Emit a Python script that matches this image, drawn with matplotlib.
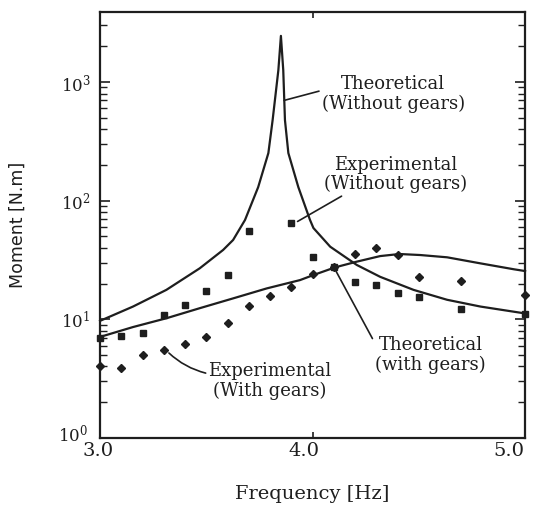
import matplotlib
matplotlib.use('Agg')
import matplotlib.pyplot as plt
import matplotlib.transforms as mtrans
from matplotlib.ticker import LogLocator, LogFormatterMathtext, NullFormatter

plt.rcParams['font.family'] = 'DejaVu Serif'
plt.rcParams['mathtext.fontset'] = 'dejavuserif'

ink = '#1e1e1e'

# theoretical response, no gears (sharp resonance near 3.85 Hz)
f_theo_free = [3.00, 3.155, 3.312, 3.469, 3.579, 3.626, 3.682, 3.744, 3.792, 3.812,
               3.839, 3.851, 3.862, 3.870, 3.886, 3.933, 3.988, 4.004, 4.083, 4.208,
               4.318, 4.475, 4.633, 4.790, 5.00]
m_theo_free = [9.7, 12.8, 17.7, 26.9, 38.4, 46.6, 68.7, 130, 252, 478,
               1260, 2450, 1260, 478, 252, 130, 68.7, 58.8, 40.9, 28.7,
               22.8, 17.7, 14.6, 12.8, 11.2]

# theoretical response, with gears
f_theo_gear = [3.00, 3.155, 3.312, 3.469, 3.626, 3.784, 3.941, 4.004, 4.106, 4.208,
               4.318, 4.409, 4.507, 4.633, 4.790, 4.947, 5.00]
m_theo_gear = [7.1, 8.6, 10.2, 12.4, 15.0, 18.2, 21.4, 23.6, 27.4, 30.6,
               34.1, 35.5, 34.8, 33.3, 29.6, 26.4, 25.5]

# measured, no gears
f_exp_free = [3.0, 3.1, 3.2, 3.3, 3.4, 3.5, 3.6, 3.7, 3.9, 4.0, 4.1, 4.2, 4.3, 4.4, 4.5, 4.7, 5.0]
m_exp_free = [6.9, 7.2, 7.6, 10.9, 13.2, 17.2, 23.5, 55, 65, 33.7, 27.7, 20.7, 19.5, 16.6, 15.3, 12.2, 11.0]

# measured, with gears
f_exp_gear = [3.0, 3.1, 3.2, 3.3, 3.4, 3.5, 3.6, 3.7, 3.8, 3.9, 4.0, 4.1, 4.2, 4.3, 4.4, 4.5, 4.7, 5.0]
m_exp_gear = [4.0, 3.9, 5.0, 5.5, 6.2, 7.1, 9.3, 12.9, 15.8, 18.8, 24, 27.4, 35.5, 39.6, 34.8, 22.6, 21.1, 16.0]

freq_ticks = [3.0, 4.0, 5.0]
freq_labels = ['3.0', '4.0', '5.0']

fig = plt.figure(figsize=(5.38, 5.08), dpi=100)
ax = fig.add_axes([0.186, 0.138, 0.79, 0.838])

ax.plot(f_theo_free, m_theo_free, color=ink, lw=1.6, clip_on=False)
ax.plot(f_theo_gear, m_theo_gear, color=ink, lw=1.6, clip_on=False)
ax.plot(f_exp_free, m_exp_free, ls='none', marker='s', ms=4.5, color=ink, clip_on=False)
ax.plot(f_exp_gear, m_exp_gear, ls='none', marker='D', ms=4.5, color=ink, clip_on=False)

ax.set_yscale('log')
ax.set_xlim(3.0, 5.0)
ax.set_ylim(1, 3880)

ax.set_xticks(freq_ticks)
ax.set_xticklabels(freq_labels)
ax.yaxis.set_major_locator(LogLocator(base=10, numticks=10))
ax.yaxis.set_minor_locator(LogLocator(base=10, subs=range(2, 10), numticks=10))
ax.yaxis.set_major_formatter(LogFormatterMathtext())
ax.yaxis.set_minor_formatter(NullFormatter())

ax.tick_params(axis='both', which='both', direction='in', colors=ink, labelcolor=ink)
ax.tick_params(axis='y', which='major', length=7, width=1.2, right=True, labelsize=12, pad=7)
ax.tick_params(axis='y', which='minor', length=5, width=1.0, right=True)
ax.tick_params(axis='x', which='major', length=4, width=1.2, top=True, labelsize=14, pad=3)

# x labels sit a little left of their ticks
for lbl, dx in zip(ax.get_xticklabels(), [-2, -9, -16]):
    lbl.set_transform(lbl.get_transform() + mtrans.ScaledTranslation(dx / 100, 0, fig.dpi_scale_trans))
# lift the 10^0 label so it clears 3.0
ylbls = ax.get_yticklabels()
for lbl in ylbls:
    if lbl.get_position()[1] == 1:
        lbl.set_transform(lbl.get_transform() + mtrans.ScaledTranslation(-0.02, 0.05, fig.dpi_scale_trans))

for s in ax.spines.values():
    s.set_linewidth(1.6)
    s.set_color(ink)

ax.set_xlabel('Frequency [Hz]', fontsize=14, color=ink, labelpad=18)
ax.set_ylabel('Moment [N.m]', fontsize=12.5, color=ink, labelpad=23, family='DejaVu Sans')

# labels with leader lines
lab = dict(fontsize=13, color=ink, ha='center', va='center', linespacing=1.1)
ax.annotate('Theoretical\n(Without gears)', xy=(3.866, 700), xytext=(4.38, 790),
            arrowprops=dict(arrowstyle='-', color=ink, lw=1.2, shrinkA=0, shrinkB=0,
                            relpos=(0.0, 0.6)), **lab)
ax.annotate('Experimental\n(Without gears)', xy=(3.918, 65), xytext=(4.39, 166),
            arrowprops=dict(arrowstyle='-', color=ink, lw=1.2, shrinkA=0, shrinkB=2,
                            relpos=(0.18, 0.05)), **lab)
ax.annotate('Experimental\n(With gears)', xy=(3.31, 5.5), xytext=(3.80, 3.0),
            arrowprops=dict(arrowstyle='-', color=ink, lw=1.2, shrinkA=0, shrinkB=3,
                            relpos=(0.0, 0.7), connectionstyle='arc3,rad=-0.15'), **lab)
ax.annotate('Theoretical\n(with gears)', xy=(4.11, 25.5), xytext=(4.555, 5.0),
            arrowprops=dict(arrowstyle='-', color=ink, lw=1.2, shrinkA=0, shrinkB=0,
                            relpos=(0.0, 0.8)), **lab)

fig.savefig('out.png', dpi=100)
